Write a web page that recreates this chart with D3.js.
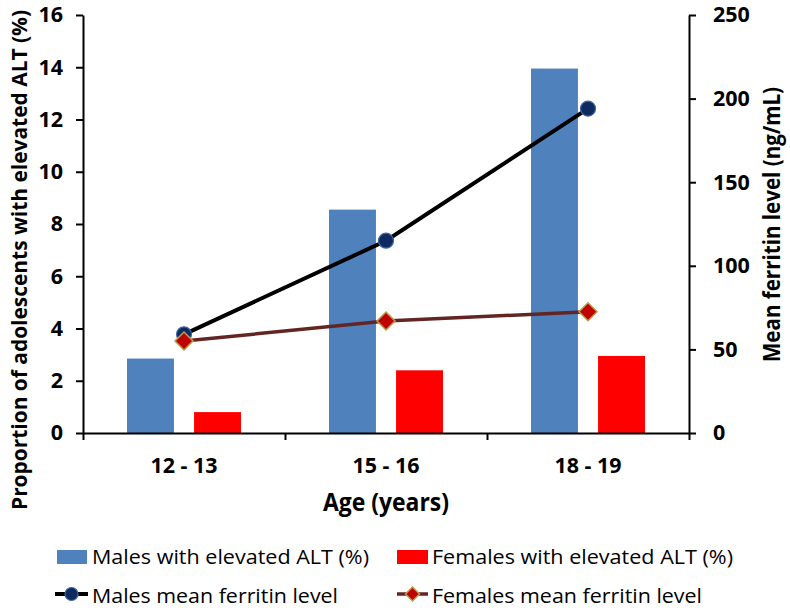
<!DOCTYPE html>
<html><head><meta charset="utf-8">
<script src="https://cdn.jsdelivr.net/npm/d3@7"></script>
<style>body{margin:0;background:#fff}svg{display:block}text{font-family:"Open Sans",sans-serif}</style>
</head><body><svg id="c" width="790" height="611"></svg>
<script>
const categories = ["12 - 13", "15 - 16", "18 - 19"];
const series = ["Males with elevated ALT (%)", "Females with elevated ALT (%)"];
const malesALT = [2.85, 8.55, 13.95];
const femalesALT = [0.8, 2.4, 2.95];
const malesFerritin = [59, 115, 194];
const femalesFerritin = [55, 67, 72.5];
const leftTicks = [0, 2, 4, 6, 8, 10, 12, 14, 16];
const rightTicks = [0, 50, 100, 150, 200, 250];

const svg = d3.select("#c");
const L = 83, R = 689, T = 15, B = 433;
const blue = "#4f81bd", red = "#ff0000";

const x0 = d3.scaleBand().domain(categories).range([L, R]).paddingInner(0.4356).paddingOuter(0.2178);
const x1 = d3.scaleBand().domain(series).range([0, x0.bandwidth()]).paddingInner(0.3);
const yL = d3.scaleLinear().domain([0, 16]).range([B, T]);
const yR = d3.scaleLinear().domain([0, 250]).range([B, T]);
const cx = c => x0(c) + x0.bandwidth() / 2;

function fit(sel, w) { sel.attr("textLength", w).attr("lengthAdjust", "spacingAndGlyphs"); return sel; }

// bars
const g = svg.append("g");
categories.forEach((c, i) => {
  g.append("rect").attr("x", x0(c) + x1(series[0])).attr("width", x1.bandwidth())
    .attr("y", yL(malesALT[i])).attr("height", B - yL(malesALT[i])).attr("fill", blue);
  g.append("rect").attr("x", x0(c) + x1(series[1])).attr("width", x1.bandwidth())
    .attr("y", yL(femalesALT[i])).attr("height", B - yL(femalesALT[i])).attr("fill", red);
});

// axes
const axL = svg.append("g").attr("transform", `translate(${L},0)`)
  .call(d3.axisLeft(yL).tickValues(leftTicks).tickSize(7).tickSizeOuter(0).tickPadding(13));
const axR = svg.append("g").attr("transform", `translate(${R},0)`)
  .call(d3.axisRight(yR).tickValues(rightTicks).tickSize(7).tickSizeOuter(0).tickPadding(17));
const xTickScale = d3.scaleLinear().domain([0, 3]).range([L, R]);
const axB = svg.append("g").attr("transform", `translate(0,${B})`)
  .call(d3.axisBottom(xTickScale).tickValues([0, 1, 2, 3]).tickSize(7).tickSizeOuter(0).tickFormat(""));
[axL, axR, axB].forEach(a => {
  a.selectAll("path.domain").attr("stroke", "#000").attr("stroke-width", 2);
  a.selectAll(".tick line").attr("stroke", "#000").attr("stroke-width", 2);
  a.selectAll("text").attr("font-family", "Open Sans").attr("font-weight", "bold")
    .attr("font-size", 21.5).attr("fill", "#000");
});

// x category labels
categories.forEach(c => {
  fit(svg.append("text").attr("x", cx(c)).attr("y", 473).attr("text-anchor", "middle")
    .attr("font-weight", "bold").attr("font-size", 21.5).text(c), 67);
});

// titles
fit(svg.append("text").attr("x", 386).attr("y", 511).attr("text-anchor", "middle")
  .attr("font-weight", "bold").attr("font-size", 25).text("Age (years)"), 126);
fit(svg.append("text").attr("transform", "translate(26.5,260) rotate(-90)").attr("text-anchor", "middle")
  .attr("font-weight", "bold").attr("font-size", 21).text("Proportion of adolescents with elevated ALT (%)"), 500);
fit(svg.append("text").attr("transform", "translate(780,224.5) rotate(-90)").attr("text-anchor", "middle")
  .attr("font-weight", "bold").attr("font-size", 22.5).text("Mean ferritin level (ng/mL)"), 275);

// lines
const line = d3.line().x(d => cx(d.c)).y(d => yR(d.v));
const mData = categories.map((c, i) => ({ c, v: malesFerritin[i] }));
const fData = categories.map((c, i) => ({ c, v: femalesFerritin[i] }));
svg.append("path").attr("d", line(mData)).attr("fill", "none").attr("stroke", "#000").attr("stroke-width", 4);
svg.append("path").attr("d", line(fData)).attr("fill", "none").attr("stroke", "#632523").attr("stroke-width", 3.5);

const circ = (sel, x, y, r) => sel.append("circle").attr("cx", x).attr("cy", y).attr("r", r)
  .attr("fill", "#0f2a5e").attr("stroke", "#3d6aa8").attr("stroke-width", 1.2);
const diam = (sel, x, y, s) => sel.append("path")
  .attr("d", `M${x},${y - s}L${x + s},${y}L${x},${y + s}L${x - s},${y}Z`)
  .attr("fill", "#c00000").attr("stroke", "#b5a04a").attr("stroke-width", 1.5);
mData.forEach(d => circ(svg, cx(d.c), yR(d.v), 7.5));
fData.forEach(d => diam(svg, cx(d.c), yR(d.v), 9));

// legend
const lg = svg.append("g");
lg.append("rect").attr("x", 57).attr("y", 550).attr("width", 30).attr("height", 14).attr("fill", blue);
fit(lg.append("text").attr("x", 92).attr("y", 564).attr("font-size", 19.5).text(series[0]), 277);
lg.append("rect").attr("x", 397).attr("y", 550).attr("width", 31).attr("height", 14).attr("fill", red);
fit(lg.append("text").attr("x", 432).attr("y", 564).attr("font-size", 19.5).text(series[1]), 301);

lg.append("line").attr("x1", 55).attr("x2", 88).attr("y1", 594).attr("y2", 594).attr("stroke", "#000").attr("stroke-width", 4);
circ(lg, 71.5, 594, 6.5);
fit(lg.append("text").attr("x", 92).attr("y", 603).attr("font-size", 19.5).text("Males mean ferritin level"), 246);
lg.append("line").attr("x1", 397).attr("x2", 428).attr("y1", 594).attr("y2", 594).attr("stroke", "#632523").attr("stroke-width", 3.5);
diam(lg, 412.5, 594, 7);
fit(lg.append("text").attr("x", 432).attr("y", 603).attr("font-size", 19.5).text("Females mean ferritin level"), 270);
</script></body></html>
